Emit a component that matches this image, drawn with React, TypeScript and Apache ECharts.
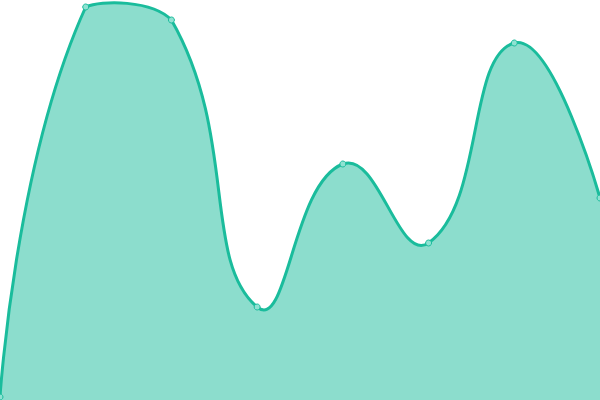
import { useEffect, useRef } from "react";
import * as echarts from "echarts";

const categories = ["A", "B", "C", "D", "E", "F", "G", "H"];
const values = [3, 393, 380, 93, 236, 157, 357, 202];

const LINE = "#1abc9c";

// control points in the old (ECharts 4) style: tangent from prev to next,
// split by segment length, clamped to the plot rectangle
function controlPoints(pts: number[][], smooth: number, min: number[], max: number[]) {
  const cps: number[][] = [];
  for (let i = 0; i < pts.length; i++) {
    if (i === 0 || i === pts.length - 1) {
      cps.push([pts[i][0], pts[i][1]]);
      continue;
    }
    const p = pts[i];
    const prev = pts[i - 1];
    const next = pts[i + 1];
    const vx = (next[0] - prev[0]) * smooth;
    const vy = (next[1] - prev[1]) * smooth;
    let d0 = Math.hypot(p[0] - prev[0], p[1] - prev[1]);
    let d1 = Math.hypot(p[0] - next[0], p[1] - next[1]);
    const sum = d0 + d1;
    if (sum) {
      d0 /= sum;
      d1 /= sum;
    }
    const clamp = (c: number[]) => [
      Math.min(Math.max(c[0], min[0]), max[0]),
      Math.min(Math.max(c[1], min[1]), max[1]),
    ];
    cps.push(clamp([p[0] - vx * d0, p[1] - vy * d0]));
    cps.push(clamp([p[0] + vx * d1, p[1] + vy * d1]));
  }
  return cps;
}

function curvePath(pts: number[][], cps: number[][]) {
  let d = `M${pts[0][0]},${pts[0][1]}`;
  for (let i = 0; i < pts.length - 1; i++) {
    const a = cps[i * 2];
    const b = cps[i * 2 + 1];
    const p = pts[i + 1];
    d += ` C${a[0]},${a[1]} ${b[0]},${b[1]} ${p[0]},${p[1]}`;
  }
  return d;
}

export default function App() {
  const chartRef = useRef<HTMLDivElement | null>(null);

  useEffect(() => {
    document.body.style.margin = "0";
    if (!chartRef.current) return;
    const chart = echarts.init(chartRef.current, null, { renderer: "svg" });

    chart.setOption({
      animation: false,
      grid: { left: 0, right: 0, top: 0, bottom: 0 },
      xAxis: {
        type: "category",
        data: categories,
        boundaryGap: false,
        show: false,
      },
      yAxis: {
        type: "value",
        min: 0,
        max: 400,
        show: false,
      },
      series: [
        {
          type: "custom",
          data: values.map((v, i) => [i, v]),
          encode: { x: 0, y: 1 },
          clip: false,
          z: 1,
          renderItem: (params: any, api: any) => {
            if (params.dataIndex !== 0) return null;
            const cs = params.coordSys;
            const pts = values.map((v, i) => api.coord([i, v]));
            const min = [cs.x, cs.y];
            const max = [cs.x + cs.width, cs.y + cs.height];
            const cps = controlPoints(pts, 0.5, min, max);
            const line = curvePath(pts, cps);
            const base = api.coord([0, 0])[1];
            const last = pts[pts.length - 1];
            const area = `${line} L${last[0]},${base} L${pts[0][0]},${base} Z`;
            return {
              type: "group",
              children: [
                {
                  type: "path",
                  shape: { pathData: area },
                  style: { fill: LINE, opacity: 0.5, stroke: "none" },
                },
                {
                  type: "path",
                  shape: { pathData: line },
                  style: { fill: "none", stroke: LINE, lineWidth: 3 },
                },
              ],
            };
          },
        },
        {
          type: "line",
          data: values,
          z: 3,
          symbol: "circle",
          symbolSize: 6,
          lineStyle: { opacity: 0, width: 0 },
          itemStyle: { color: "#8fe2d2", borderColor: LINE, borderWidth: 1 },
        },
      ],
    });

    return () => chart.dispose();
  }, []);

  return <div ref={chartRef} style={{ width: 600, height: 400 }} />;
}
